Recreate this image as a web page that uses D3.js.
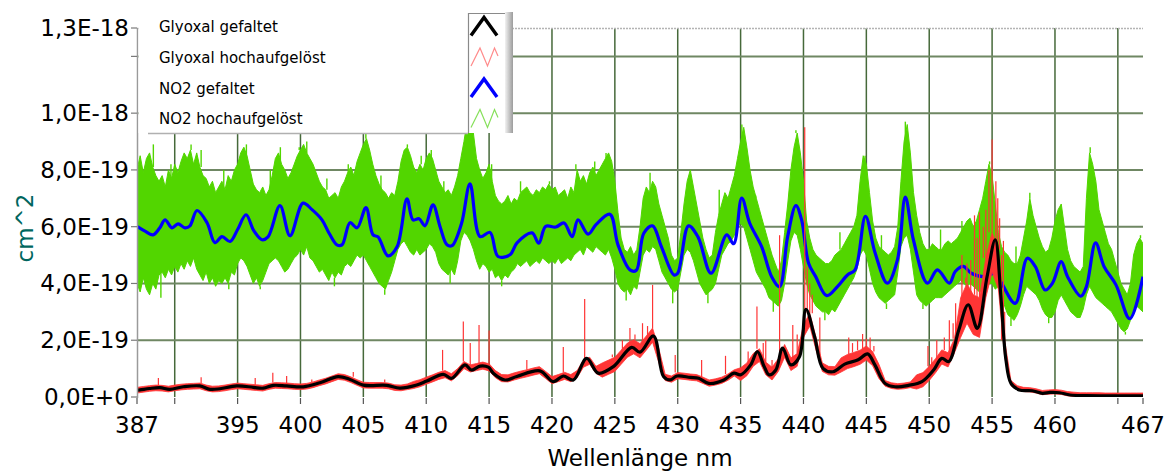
<!DOCTYPE html>
<html>
<head>
<meta charset="utf-8">
<script src="https://cdn.jsdelivr.net/npm/d3@7"></script>
<style>
  html, body { margin: 0; padding: 0; background: #ffffff; }
  svg { display: block; font-family: "DejaVu Sans", Verdana, sans-serif; }
</style>
</head>
<body>
<svg id="chart" width="1166" height="472"></svg>
<script>
// ---------- axis ticks ----------
const wavelengthTicks = [387, 390, 395, 400, 405, 410, 415, 420, 425, 430, 435, 440, 445, 450, 455, 460, 465, 467];
const wavelengthTickLabels = ["387", "", "395", "400", "405", "410", "415", "420", "425", "430", "435", "440", "445", "450", "455", "460", "", "467"];
const crossSectionTicks = [0, 2e-19, 4e-19, 6e-19, 8e-19, 1e-18, 1.2e-18, 1.3e-18];
const crossSectionTickLabels = ["0,0E+0", "2,0E-19", "4,0E-19", "6,0E-19", "8,0E-19", "1,0E-18", "", "1,3E-18"];

// ---------- legend ----------
const seriesNames = ["Glyoxal gefaltet", "Glyoxal hochaufgelöst", "NO2 gefaltet", "NO2 hochaufgelöst"];

// ---------- NO2 gefaltet: [wavelength nm, cross section in 1E-19 cm^2] ----------
const no2Folded = [
  [387.0,6.01],[387.6,5.85],[388.27,5.71],[388.8,5.95],[389.23,6.24],[389.78,5.96],[390.26,6.10],[390.82,5.96],
  [391.21,6.03],[391.77,6.57],[392.57,6.14],[393.2,5.44],[393.76,5.65],[394.4,5.48],[395.0,5.9],[395.67,6.42],
  [396.3,5.85],[396.94,5.54],[397.42,5.64],[398.37,6.74],[399.17,5.68],[400.2,6.83],[400.92,6.60],[401.71,6.24],
  [402.3,5.75],[402.9,5.36],[403.3,5.36],[403.94,6.14],[404.5,5.96],[405.21,6.67],[405.77,5.71],[406.17,5.64],
  [406.96,4.97],[407.68,5.29],[408.47,6.98],[408.95,6.24],[409.43,6.28],[409.9,6.03],[410.54,6.77],[411.1,6.0],
  [411.65,5.36],[412.05,5.33],[412.8,6.1],[413.48,7.51],[414.28,5.65],[415.07,5.80],[415.71,4.95],[416.66,5.01],
  [417.22,5.43],[418.41,5.78],[418.95,5.42],[419.5,6.01],[420.3,5.99],[420.96,6.13],[421.6,5.65],[422.07,6.24],
  [422.87,5.74],[423.5,6.07],[424.6,6.44],[425.25,5.36],[426.2,4.48],[426.7,4.46],[427.3,5.77],[428.0,6.03],
  [428.7,5.30],[429.7,4.30],[430.0,4.36],[430.86,6.03],[431.6,5.65],[432.65,4.36],[433.9,5.71],[434.45,5.40],
  [435.09,7.01],[435.72,6.13],[436.67,5.30],[437.47,4.24],[438.1,3.89],[438.74,5.65],[439.4,6.74],[439.85,6.24],
  [440.4,4.72],[440.97,4.24],[441.85,3.57],[442.7,3.89],[443.5,4.30],[444.1,4.48],[444.93,6.36],[445.7,5.07],
  [446.67,4.01],[447.47,4.83],[448.1,7.04],[448.74,5.54],[449.86,4.01],[450.65,4.48],[451.6,4.01],[452.07,4.42],
  [452.7,4.60],[453.35,4.36],[454.3,4.24],[455.25,4.36],[455.76,4.01],[456.84,3.30],[457.8,4.89],[458.43,4.60],
  [459.22,3.77],[459.8,4.01],[460.5,4.77],[461.0,4.24],[462.05,3.55],[462.5,3.89],[463.23,5.43],[463.9,4.6],
  [464.85,3.95],[465.95,2.76],[467.0,4.24]
];

// ---------- Glyoxal gefaltet: [wavelength nm, cross section in 1E-19 cm^2] ----------
const glyoxalFolded = [
  [387.0,0.24],[387.24,0.25],[388.0,0.30],[388.83,0.33],[389.6,0.27],[390.68,0.36],[392.0,0.39],[392.8,0.27],
  [393.6,0.29],[394.93,0.39],[396.25,0.34],[397.04,0.31],[397.84,0.41],[398.9,0.39],[400.22,0.36],[401.55,0.50],
  [403.0,0.72],[403.94,0.62],[405.0,0.42],[406.86,0.41],[407.9,0.31],[409.24,0.42],[410.04,0.56],[411.36,0.80],
  [412.03,0.66],[413.08,1.13],[413.6,0.95],[414.28,1.09],[414.94,1.05],[415.33,0.84],[416.26,0.60],[417.2,0.72],
  [419.04,0.92],[420.1,0.54],[420.9,0.74],[421.7,0.60],[422.76,1.36],[423.68,0.84],[424.88,1.07],[426.34,1.75],
  [427.0,1.58],[428.07,2.15],[428.87,0.72],[429.4,0.60],[429.94,0.74],[431.0,0.69],[431.67,0.66],[432.47,0.48],
  [433.67,0.60],[434.47,0.84],[435.0,0.78],[435.8,1.13],[436.34,1.60],[436.88,1.07],[437.27,0.78],[437.8,0.95],
  [438.34,1.72],[439.0,1.13],[439.68,1.42],[440.2,3.09],[440.88,2.13],[441.55,1.01],[442.35,0.89],[443.28,1.16],
  [444.35,1.31],[445.1,1.52],[445.68,1.13],[446.48,0.48],[447.28,0.36],[448.35,0.41],[449.42,0.54],[450.35,0.95],
  [451.0,1.36],[451.55,1.25],[452.35,2.36],[453.1,3.25],[453.82,2.42],[454.6,4.24],[455.25,5.54],[455.7,3.54],
  [456.1,1.31],[456.5,0.48],[457.16,0.25],[458.2,0.22],[459.0,0.13],[459.6,0.16],[460.36,0.15],[461.2,0.07],
  [462.5,0.05],[467.0,0.04]
];

// ---------- NO2 hochaufgelöst: band envelope, 0.25 nm sampling from 387 nm, in 1E-20 cm^2 ----------
const no2HighResStart = 387, no2HighResStep = 0.25;
const no2HighResUpper = [
  80,85,79,84, 86,81,78,76, 78,74,80,77, 82,79,83,86, 84,87,82,86, 81,78,77,74, 76,72,74,76, 73,78,76,80,
  82,86,88,85, 80,75,73,72, 74,71,73,78, 84,86,82,80, 77,79,82,85, 87,89,86,84, 82,79,76,74, 73,70,71,72,
  70,74,76,79, 81,78,83,86, 89,91,87,82, 78,75,73,72, 70,72,71,76, 83,87,88,85, 81,79,82,80, 84,86,84,80,
  76,74,72,73, 71,74,78,84, 90,97,104,93, 84,80,77,79, 82,76,71,69, 68,69,71,68, 70,69,72,73, 74,72,71,73,
  72,74,73,75, 73,74,71,72, 73,70,74,72, 80,76,78,75, 79,81,78,80, 82,84,86,83, 76,65,56,52, 51,53,50,52,
  60,70,74,72, 76,74,68,64, 60,56,50,48, 49,58,68,76, 80,74,68,62, 56,52,49,50, 58,64,68,72, 70,74,78,84,
  90,95,88,80, 74,70,66,62, 58,54,50,47, 44,48,58,68, 80,88,93,86, 76,62,56,52, 50,49,48,47, 47,48,50,51,
  52,54,56,58, 60,64,76,85, 82,72,62,56, 53,52,51,50, 51,53,60,76, 90,96,86,72, 64,58,54,52, 52,54,53,52,
  52,54,55,54, 55,56,58,60, 62,63,60,62, 66,70,76,82, 78,68,58,53, 51,50,48,47, 47,50,56,62, 70,64,60,56,
  53,51,52,56, 62,66,68,60, 52,48,46,45, 44,46,70,86, 82,76,66,62, 58,54,52,48, 44,40,38,36, 40,50,54,56,
  54
];
const no2HighResLower = [
  40,37,42,38, 36,40,38,43, 44,42,45,43, 46,44,47,45, 48,46,49,45, 43,41,44,40, 42,39,41,40, 42,40,44,43,
  47,49,48,46, 43,40,42,39, 41,44,47,48, 49,48,46,44, 45,47,49,50, 52,50,53,49, 48,46,44,45, 43,41,44,42,
  44,43,46,47, 46,48,50,49, 50,48,46,44, 42,40,39,38, 41,44,48,52, 54,55,53,51, 50,52,50,51, 52,54,53,51,
  47,45,44,43, 45,43,48,55, 58,57,55,52, 48,45,47,46, 44,45,42,43, 41,43,42,44, 45,47,46,47, 48,46,47,48,
  47,49,48,47, 48,47,49,47, 48,49,48,50, 51,52,50,53, 52,51,53,52, 51,50,52,49, 45,40,38,37, 38,36,39,38,
  44,50,52,51, 53,52,48,44, 42,40,38,37, 38,44,50,52, 51,48,44,40, 38,36,37,38, 40,45,50,52, 54,55,57,60,
  61,60,56,52, 48,44,42,40, 38,35,34,33, 32,34,40,48, 55,58,57,52, 46,40,36,34, 32,31,30,30, 29,31,30,32,
  34,36,38,40, 42,45,50,52, 50,45,40,37, 35,34,33,34, 35,36,44,53, 56,57,52,44, 36,34,33,32, 33,34,35,35,
  35,36,37,38, 39,40,41,40, 39,40,39,38, 37,38,39,40, 40,38,39,36, 32,29,28,27, 29,32,36,39, 38,37,36,34,
  31,29,28,28, 30,34,36,34, 32,30,29,28, 28,31,36,39, 37,35,34,33, 32,31,30,28, 26,24,23,24, 27,31,32,31,
  30
];
// single lines of the NO2 spectrum reaching past the band: [wavelength nm, cross section in 1E-19 cm^2]
const no2HighResSpikes = [
  [388.3,8.9],[389.7,8.2],[391.3,8.9],[392.1,8.7],[393.9,8.0],[395.7,8.9],[397.6,8.0],[398.4,8.8],
  [399.9,8.8],[400.5,9.0],[402.1,7.7],[403.8,8.2],[405.2,9.3],[406.4,7.8],[408.5,8.9],[409.6,8.5],
  [410.4,8.7],[411.4,7.6],[413.4,10.4],[415.2,8.2],[417.5,7.6],[419.8,7.6],[421.9,8.2],[423.4,8.3],
  [424.3,8.6],[427.8,7.9],[428.3,7.4],[430.96,8.0],[433.3,7.3],[435.1,9.6],[436.2,7.1],[439.4,9.4],
  [442.9,5.8],[444.9,8.5],[446.2,5.7],[448.1,9.7],[450.9,5.9],[452.6,6.2],[454.8,8.3],[456.9,5.3],
  [458.0,7.2],[460.4,6.8],[462.8,8.8],[466.8,5.7],
  [388.9,3.5],[394.3,3.8],[396.8,3.8],[402.7,3.9],[406.7,3.6],[411.9,4.0],[416.0,3.9],[425.9,3.4],
  [429.6,3.3],[432.4,3.3],[437.6,3.0],[441.7,2.7],[446.6,3.1],[449.5,3.1],[456.5,2.5],[459.5,2.6],
  [465.6,2.2]
];

// ---------- Glyoxal hochaufgelöst: band envelope, 0.5 nm sampling from 387 nm, in 1E-20 cm^2 ----------
const glyoxalHighResStart = 387, glyoxalHighResStep = 0.5;
const glyoxalHighResUpper = [
  3.4,3.7,4,4.2,4.1,3.8,4.2,4.5, 4.7,4.8,4.9,4.2,3.8,3.9,4.2,4.6, 4.9,4.7,4.5,4.3,4.1,4.7,5.1,5, 4.9,4.7,4.6,4.8,5.3,6,6.6,7.4,
  8.2,7.9,7.1,6.1,5.2,5.1,5.1,5.1, 4.9,4.3,4.2,4.6,5.5,6.1,7,7.8, 8.7,9.3,8.2,10,12.5,11.3,11.8,12.3, 11.7,9.3,7.9,7.8,8.5,9.1,9.6,10.2,
  10.7,9,7.2,7.9,8.7,7.9,9.3,13, 14,10.8,12,13,14,16.5,19,20.2, 18.8,21.5,24.3,17,8,7.4,8.6,8.4, 8.1,7.9,7,6,6.4,7,8.1,9.6,
  10.3,12,15.3,17,12.3,10.5,13.5,18.5, 13.8,15.3,25.5,29.5,21,12,10.8,10.7, 13.8,15,15.7,16.5,18,16,11.5,5.8, 5,4.7,4.9,5.3,7.8,8.6,10.8,13.5,
  16.6,15.6,20.5,35,40,36,35,49, 58,52,20,5.8,4,3.4,3.3,2.9, 2.3,2.5,2.6,2.4,1.9,1.7,1.5,1.5, 1.5,1.5,1.4,1.4,1.4,1.4,1.4,1.4,
  1.4
];
const glyoxalHighResLower = [
  1.4,1.7,2,2.2,2.1,1.8,2.2,2.5, 2.7,2.8,2.9,2.2,1.8,1.9,2.2,2.6, 2.9,2.7,2.5,2.3,2.1,2.7,3.1,3, 2.9,2.7,2.6,2.8,3.3,4,4.6,5.4,
  6.2,5.9,5.1,4.1,3.2,3.1,3.1,3.1, 2.9,2.3,2.2,2.6,3,3.6,4.5,5.3, 6.2,6.8,5.7,7.5,10,8.8,9.3,9.8, 9.2,6.8,5.4,5.3,6,6.6,7.1,7.7,
  8.2,6.5,4.7,5.4,6.2,5.4,6.8,10.5, 11.5,8.3,7,8,9,11.5,14,15.2, 13.8,16.5,19.3,12,5.8,5.2,6.4,6.2, 5.9,5.7,4.8,3.8,4.2,4.8,5.9,7.4,
  5.8,7.5,10.8,12.5,7.8,6,9,14, 9.3,10.8,21,25,16.5,9,7.8,7.7, 8.8,10,10.7,11.5,13,11,6.5,3.8, 3,2.7,2.9,3.3,2.8,3.6,5.8,8.5,
  11.6,10.6,15.5,21,26,22,21,35, 44,38,14,4,2.5,1.9,1.8,1.4, 0.8,1,1.1,0.9,0.4,0.2,0,0, 0,0,0,0,0,0,0,0,
  0
];
// single lines of the glyoxal spectrum reaching past the band: [wavelength nm, cross section in 1E-19 cm^2]
const glyoxalHighResSpikes = [
  [388.7,0.67],[392.1,0.70],[396.4,0.67],[397.8,0.85],[398.9,0.74],[400.9,0.62],[404.2,0.88],[406.7,0.62],
  [411.3,1.66],[412.95,2.66],[413.5,1.9],[414.2,2.54],[415.0,2.34],[418.0,1.3],[420.9,1.76],[422.6,3.45],
  [424.8,1.5],[425.6,2.0],[426.2,2.43],[426.6,2.2],[427.2,2.6],[427.6,2.5],[428.0,3.95],[429.8,1.48],
  [431.9,1.3],[433.8,1.45],[435.6,1.6],[436.3,3.19],[436.8,1.9],[437.0,2.0],[437.5,1.3],[438.1,5.7],
  [439.15,2.54],[439.5,2.2],[439.8,2.0],[440.1,9.5],[440.3,4.6],[440.5,4.0],[440.7,3.6],[441.3,2.8],
  [443.6,2.1],[443.9,1.9],[444.3,2.0],[444.7,2.22],[445.0,2.05],[445.3,2.1],[445.6,1.8],[449.9,1.8],
  [450.2,1.4],[450.6,2.0],[451.2,2.1],[451.6,2.7],[451.9,2.6],[452.1,3.3],[452.6,5.0],[452.9,4.2],
  [453.0,4.7],[453.3,4.83],[453.6,6.4],[453.8,5.6],[454.0,6.5],[454.3,6.0],[454.5,6.6],[454.75,8.0],
  [455.0,9.07],[455.3,7.6],[455.45,7.0],[455.6,6.3],[455.75,5.0],[455.9,5.5],[456.0,3.0]
];

// ---------- layout ----------
const plot = { left: 137, right: 1143, top: 28, bottom: 397 };
const E19 = 1e-19, E20 = 1e-20;
const colors = {
  no2HR: "#52d600", no2: "#0000ff", glyHR: "#ff3535", gly: "#000000",
  gridH: "#6f8763", gridV: "#46693a", axis: "#9a9a9a", title: "#00665e"
};

const svg = d3.select("#chart");
const x = d3.scaleLinear().domain([387, 467]).range([plot.left, plot.right]);
const y = d3.scaleLinear().domain([0, 1.3e-18]).range([plot.bottom, plot.top]);

const defs = svg.append("defs");
defs.append("clipPath").attr("id", "plotClip")
  .append("rect")
  .attr("x", plot.left).attr("y", plot.top)
  .attr("width", plot.right - plot.left).attr("height", plot.bottom - plot.top);

// ---------- grid ----------
const grid = svg.append("g");
grid.selectAll("line.gv")
  .data(wavelengthTicks.filter(d => d > 387 && d < 467))
  .join("line")
  .attr("x1", d => x(d)).attr("x2", d => x(d))
  .attr("y1", plot.top).attr("y2", plot.bottom)
  .attr("stroke", colors.gridV).attr("stroke-width", 1.5);
grid.selectAll("line.gh")
  .data(crossSectionTicks.filter(d => d > 0 && d < 1.3e-18))
  .join("line")
  .attr("x1", plot.left).attr("x2", plot.right)
  .attr("y1", d => y(d)).attr("y2", d => y(d))
  .attr("stroke", colors.gridH).attr("stroke-width", 2);
// top frame line
grid.append("line")
  .attr("x1", plot.left).attr("x2", plot.right)
  .attr("y1", plot.top + 0.5).attr("y2", plot.top + 0.5)
  .attr("stroke", "#b4b4b4").attr("stroke-width", 1.5).attr("stroke-dasharray", "2,1");

// ---------- data ----------
const data = svg.append("g").attr("clip-path", "url(#plotClip)");

// a spike runs from its value to the nearest edge of its band
function spikeBase(d, start, step, upper, lower, unit) {
  const i = Math.round((d[0] - start) / step);
  const top = upper[i] * unit, bottom = lower[i] * unit, v = d[1] * E19;
  return v >= top ? top : v <= bottom ? bottom : v;
}

// NO2 high resolution band
const no2Area = d3.area()
  .x((d, i) => x(no2HighResStart + i * no2HighResStep))
  .y0((d, i) => y(no2HighResLower[i] * E20))
  .y1(d => y(d * E20));
data.append("path")
  .attr("d", no2Area(no2HighResUpper))
  .attr("fill", colors.no2HR).attr("stroke", colors.no2HR).attr("stroke-width", 1);
data.selectAll("line.no2spike")
  .data(no2HighResSpikes)
  .join("line")
  .attr("x1", d => x(d[0])).attr("x2", d => x(d[0]))
  .attr("y1", d => y(d[1] * E19))
  .attr("y2", d => y(spikeBase(d, no2HighResStart, no2HighResStep, no2HighResUpper, no2HighResLower, E20)))
  .attr("stroke", colors.no2HR).attr("stroke-width", 1.4);

// NO2 folded
const foldedLine = d3.line()
  .x(d => x(d[0]))
  .y(d => y(d[1] * E19))
  .curve(d3.curveCatmullRom.alpha(0.5));
data.append("path")
  .attr("d", foldedLine(no2Folded))
  .attr("fill", "none").attr("stroke", colors.no2)
  .attr("stroke-width", 3.2).attr("stroke-linejoin", "round");

// Glyoxal high resolution band
const glyArea = d3.area()
  .x((d, i) => x(glyoxalHighResStart + i * glyoxalHighResStep))
  .y0((d, i) => y(glyoxalHighResLower[i] * E20))
  .y1(d => y(d * E20));
data.append("path")
  .attr("d", glyArea(glyoxalHighResUpper))
  .attr("fill", colors.glyHR).attr("stroke", colors.glyHR).attr("stroke-width", 0.8);
data.selectAll("line.glyspike")
  .data(glyoxalHighResSpikes)
  .join("line")
  .attr("x1", d => x(d[0])).attr("x2", d => x(d[0]))
  .attr("y1", d => y(d[1] * E19))
  .attr("y2", d => y(spikeBase(d, glyoxalHighResStart, glyoxalHighResStep, glyoxalHighResUpper, glyoxalHighResLower, E20)))
  .attr("stroke", colors.glyHR).attr("stroke-width", 1.2);

// Glyoxal folded
data.append("path")
  .attr("d", foldedLine(glyoxalFolded))
  .attr("fill", "none").attr("stroke", colors.gly)
  .attr("stroke-width", 3.2).attr("stroke-linejoin", "round");

// ---------- axes ----------
const axes = svg.append("g");
axes.append("line")
  .attr("x1", plot.left + 0.5).attr("x2", plot.left + 0.5)
  .attr("y1", plot.top).attr("y2", plot.bottom + 1)
  .attr("stroke", colors.axis).attr("stroke-width", 1.5);

axes.selectAll("line.yt")
  .data(crossSectionTicks)
  .join("line")
  .attr("x1", plot.left - 6).attr("x2", plot.left)
  .attr("y1", d => y(d)).attr("y2", d => y(d))
  .attr("stroke", "#7a7a7a").attr("stroke-width", 1.2);
axes.selectAll("text.yl")
  .data(crossSectionTicks)
  .join("text")
  .attr("x", plot.left - 8)
  .attr("y", d => y(d) + 8)
  .attr("text-anchor", "end")
  .attr("font-size", 23).attr("fill", "#000")
  .text((d, i) => crossSectionTickLabels[i]);

axes.selectAll("line.xt")
  .data(wavelengthTicks)
  .join("line")
  .attr("x1", d => x(d)).attr("x2", d => x(d))
  .attr("y1", plot.bottom + 1).attr("y2", plot.bottom + 7)
  .attr("stroke", "#555").attr("stroke-width", 1.2);
axes.selectAll("text.xl")
  .data(wavelengthTicks)
  .join("text")
  .attr("x", d => x(d))
  .attr("y", 433)
  .attr("text-anchor", "middle")
  .attr("font-size", 23).attr("fill", "#000")
  .text((d, i) => wavelengthTickLabels[i]);

axes.append("text")
  .attr("x", (plot.left + plot.right) / 2).attr("y", 466)
  .attr("text-anchor", "middle").attr("font-size", 23).attr("fill", "#000")
  .text("Wellenlänge nm");
axes.append("text")
  .attr("transform", "translate(33,228) rotate(-90)")
  .attr("text-anchor", "middle").attr("font-size", 23).attr("fill", colors.title)
  .text("cm^2");

// ---------- legend ----------
const legend = svg.append("g");
legend.append("rect")
  .attr("x", plot.left + 1.5).attr("y", 0).attr("width", 468 - plot.left - 1.5).attr("height", 133)
  .attr("fill", "#fff");
legend.append("line")
  .attr("x1", 148).attr("x2", 468).attr("y1", 133.5).attr("y2", 133.5)
  .attr("stroke", "#b0b0b0").attr("stroke-width", 1.5);

const shade = defs.append("linearGradient").attr("id", "iconShade")
  .attr("x1", "0").attr("x2", "1").attr("y1", "0").attr("y2", "0");
shade.append("stop").attr("offset", "0").attr("stop-color", "#f2f2f2");
shade.append("stop").attr("offset", "1").attr("stop-color", "#9c9c9c");

legend.append("rect")
  .attr("x", 468).attr("y", 13).attr("width", 45).attr("height", 120)
  .attr("fill", "#fff");
legend.append("rect")
  .attr("x", 505).attr("y", 12).attr("width", 8).attr("height", 121)
  .attr("fill", "url(#iconShade)");
legend.append("path")
  .attr("d", "M468.5,133 V13.5 H505")
  .attr("fill", "none").attr("stroke", "#8a8a8a").attr("stroke-width", 1.2);

const rowCenters = [26.5, 57, 88, 118.5];
const legendStyle = [
  { color: colors.gly, width: 3.4, zig: false },
  { color: "#ff8a8a", width: 1.2, zig: true },
  { color: colors.no2, width: 3.4, zig: false },
  { color: "#86e05a", width: 1.2, zig: true }
];
legend.selectAll("text.lg")
  .data(seriesNames)
  .join("text")
  .attr("x", 159).attr("y", (d, i) => rowCenters[i] + 5.5)
  .attr("font-size", 15).attr("fill", "#000")
  .text(d => d);
legend.selectAll("path.icon")
  .data(legendStyle)
  .join("path")
  .attr("d", (s, i) => {
    const c = rowCenters[i];
    const pts = s.zig
      ? [[471, c + 9], [480, c - 9], [487.5, c + 9], [494.5, c - 9], [498, c - 1]]
      : [[471, c + 9], [484, c - 9], [497, c + 9]];
    return d3.line()(pts);
  })
  .attr("fill", "none")
  .attr("stroke", s => s.color).attr("stroke-width", s => s.width)
  .attr("stroke-linejoin", "miter");
</script>
</body>
</html>
